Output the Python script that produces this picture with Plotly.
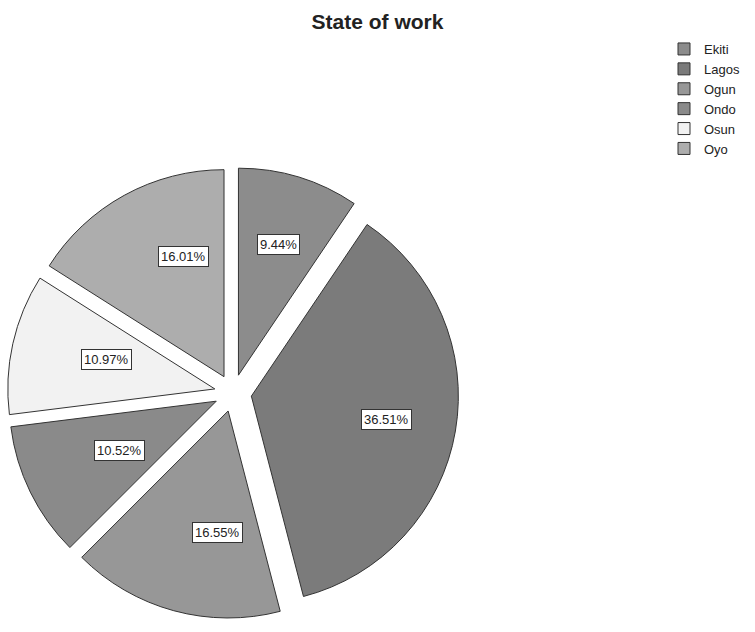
import math
import plotly.graph_objects as go

states = ["Ekiti", "Lagos", "Ogun", "Ondo", "Osun", "Oyo"]
percents = [9.44, 36.51, 16.55, 10.52, 10.97, 16.01]
colors = ["#8c8c8c", "#7b7b7b", "#979797", "#8a8a8a", "#f2f2f2", "#adadad"]

W, H = 755, 632
R = 207          # pie radius in px
PULL = 0.09      # explode fraction
CX, CY = 233, 393  # centre in px (from top)
half = R * (1 + PULL)
dom_x = [(CX - half) / W, (CX + half) / W]
dom_y = [(H - CY - half) / H, (H - CY + half) / H]

FONT = "Liberation Sans, Arial, sans-serif"

fig = go.Figure(go.Pie(
    labels=states,
    values=percents,
    marker=dict(colors=colors, line=dict(color="#333333", width=1)),
    pull=[PULL] * len(states),
    sort=False,
    direction="clockwise",
    rotation=0,
    textinfo="none",
    hoverinfo="label+percent",
    domain=dict(x=dom_x, y=dom_y),
))

# label boxes, placed along each slice's mid-angle
total = sum(percents)
cum = 0.0
for lab, v in zip(states, percents):
    mid = (cum + v / 2) / total * 2 * math.pi
    cum += v
    d = PULL * R + 0.66 * R
    px = CX + d * math.sin(mid)
    py = CY - d * math.cos(mid)
    fig.add_annotation(
        x=px / W, y=1 - py / H, xref="paper", yref="paper",
        text=f"{v:.2f}%", showarrow=False,
        font=dict(family=FONT, size=13, color="#222222"),
        bgcolor="white", bordercolor="#333333", borderwidth=1, borderpad=2,
    )

fig.update_layout(
    width=W, height=H,
    margin=dict(l=0, r=0, t=0, b=0),
    paper_bgcolor="white", plot_bgcolor="white",
    title=dict(text="<b>State of work</b>", x=0.5, xanchor="center", y=1 - 22 / H, yanchor="middle",
               font=dict(family=FONT, size=21, color="#222222")),
    legend=dict(x=664 / W, y=1 - 34 / H, xanchor="left", yanchor="top",
                font=dict(family=FONT, size=13, color="#222222"),
                bgcolor="rgba(0,0,0,0)", itemclick=False, tracegroupgap=0),
    showlegend=True,
)

fig.write_html("out.html")
